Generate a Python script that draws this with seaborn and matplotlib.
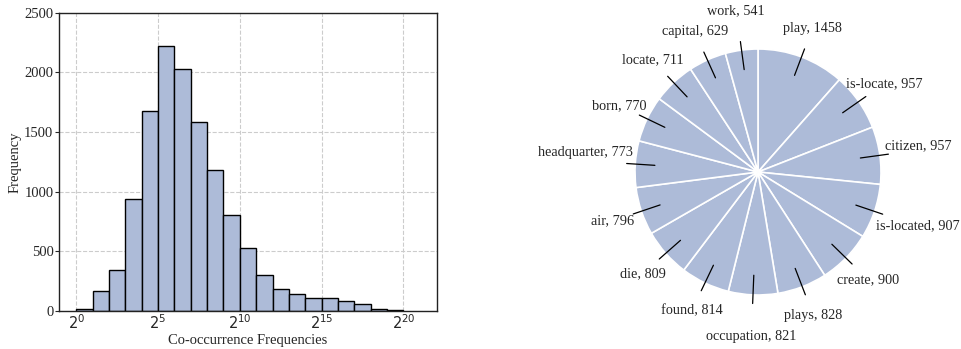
import numpy as np
import pandas as pd
import matplotlib
matplotlib.use("Agg")
import matplotlib.pyplot as plt
import seaborn as sns

# ------------------------------
# data
# ------------------------------
# histogram: exponent of the lower bin edge (log2) and count per bin
bin_exp = np.arange(0, 20)
bin_counts = [20, 170, 340, 940, 1675, 2225, 2025, 1580, 1185, 805,
              525, 305, 185, 140, 105, 105, 80, 60, 20, 10]
xtick_exp = [0, 5, 10, 15, 20]
ytick_vals = [0, 500, 1000, 1500, 2000, 2500]

# pie: relation names and counts (clockwise from the top)
relations = ["play", "is-locate", "citizen", "is-located", "create", "plays",
             "occupation", "found", "die", "air", "headquarter", "born",
             "locate", "capital", "work"]
rel_counts = [1458, 957, 957, 907, 900, 828, 821, 814, 809, 796, 773, 770,
              711, 629, 541]

# ------------------------------
# style
# ------------------------------
sns.set_style("ticks")
plt.rcParams["font.family"] = ["Liberation Serif", "DejaVu Sans"]
plt.rcParams["mathtext.fontset"] = "dejavusans"

BAR_COLOR = "#adbbd8"
W, H = 962, 349

fig = plt.figure(figsize=(W / 100, H / 100), dpi=100)

# ------------------------------
# left: histogram
# ------------------------------
hist_df = pd.DataFrame({"exp": bin_exp + 0.5, "count": bin_counts})
ax1 = fig.add_axes([59 / W, (H - 311) / H, (437 - 59) / W, (311 - 12.7) / H])
sns.histplot(data=hist_df, x="exp", weights="count", bins=len(bin_exp),
             binrange=(0, len(bin_exp)),
             color=BAR_COLOR, edgecolor="black", linewidth=1.0, alpha=1.0,
             ax=ax1, zorder=2)
ax1.set_xlim(-1.05, 22.05)
ax1.set_ylim(0, 2500)
ax1.set_xticks(xtick_exp)
ax1.set_xticklabels([f"$2^{{{k}}}$" for k in xtick_exp], fontsize=10.5)
ax1.set_yticks(ytick_vals)
ax1.set_yticklabels([str(v) for v in ytick_vals], fontsize=10.5)
ax1.tick_params(axis="x", length=0, pad=2)
ax1.tick_params(axis="y", length=3, width=0.8, pad=1)
ax1.grid(True, linestyle="--", color="#cccccc", linewidth=0.8, zorder=0)
ax1.set_axisbelow(True)
for s in ax1.spines.values():
    s.set_visible(True)
    s.set_color("#222222")
    s.set_linewidth(1.0)
ax1.set_xlabel("Co-occurrence Frequencies", fontsize=10.5, labelpad=1)
ax1.set_ylabel("Frequency", fontsize=10.5, labelpad=2)

# ------------------------------
# right: pie
# ------------------------------
cx, cy, r_px = 758, 172, 123
span = 1.4
side = 2 * span * r_px
ax2 = fig.add_axes([(cx - side / 2) / W, (H - cy - side / 2) / H, side / W, side / H])
wedges, _ = ax2.pie(rel_counts, startangle=90, counterclock=False,
                    colors=[BAR_COLOR] * len(rel_counts),
                    wedgeprops=dict(edgecolor="white", linewidth=1.2))
ax2.set_xlim(-span, span)
ax2.set_ylim(-span, span)
ax2.set_aspect("equal")
ax2.axis("off")

# some labels sit further out / rotated a little so they clear the leader line
# (distance in radii, extra angle in degrees)
label_shift = {"citizen": (1.32, 1.6), "is-located": (1.37, 0.0),
               "occupation": (1.34, 0.0), "headquarter": (1.41, -2.8),
               "work": (1.32, 0.0)}
for w, name, cnt in zip(wedges, relations, rel_counts):
    mid = (w.theta1 + w.theta2) / 2
    ang = np.deg2rad(mid)
    c, s = np.cos(ang), np.sin(ang)
    ax2.plot([0.84 * c, 1.07 * c], [0.84 * s, 1.07 * s], color="black",
             linewidth=0.9, clip_on=False)
    d, extra = label_shift.get(name, (1.25, 0.0))
    ta = np.deg2rad(mid + extra)
    ax2.text(d * np.cos(ta), d * np.sin(ta), f"{name}, {cnt}",
             ha="center", va="center", fontsize=10.3, clip_on=False)

fig.savefig("out.png", dpi=100)
